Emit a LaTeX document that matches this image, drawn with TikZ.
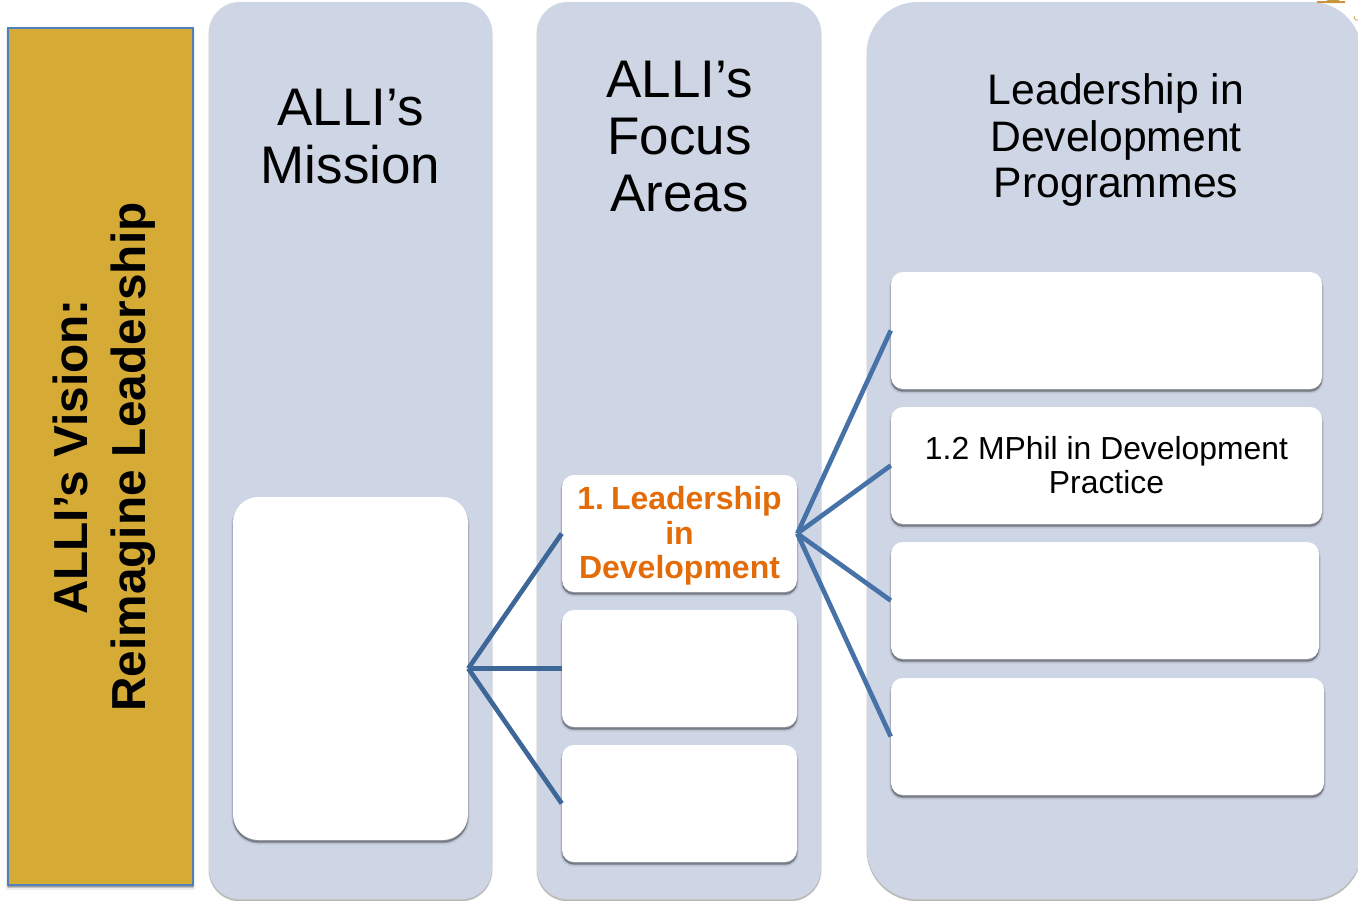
\documentclass[tikz,border=0pt]{standalone}
\usepackage{fontspec}
\setmainfont{Liberation Sans}
\definecolor{panelblue}{HTML}{CED5E5}
\definecolor{goldfill}{HTML}{D6AB35}
\definecolor{goldedge}{HTML}{4F81BD}
\definecolor{linedark}{HTML}{3D6797}
\definecolor{linelight}{HTML}{4672A8}
\definecolor{orangetext}{HTML}{E36C09}
\definecolor{crest}{HTML}{C8963C}
\tikzset{
  softshadow/.style={
    preaction={draw=black,line width=1.6pt,fill=black,opacity=.04,transform canvas={yshift=-1.4pt}},
    preaction={draw=black,line width=.8pt,fill=black,opacity=.06,transform canvas={yshift=-1.4pt}},
    preaction={fill=black,opacity=.14,transform canvas={yshift=-1.6pt}}},
  boxshadow/.style={
    preaction={draw=black,line width=2.6pt,fill=black,opacity=.07,transform canvas={yshift=-2.2pt}},
    preaction={draw=black,line width=1.2pt,fill=black,opacity=.12,transform canvas={yshift=-1.8pt}},
    preaction={fill=black,opacity=.18,transform canvas={yshift=-1.8pt}}},
  panel/.style={softshadow,fill=panelblue,inner sep=0pt},
  whitebox/.style={boxshadow,fill=white,inner sep=0pt,rounded corners=9pt,minimum width=176.25pt,minimum height=87.75pt},
  paneltitle/.style={align=center,font=\fontsize{39.7}{43}\selectfont,inner sep=0pt},
  progtitle/.style={align=center,font=\fontsize{32}{34.7}\selectfont,inner sep=0pt},
  branchdark/.style={draw=linedark,line width=3.5pt},
  branchlight/.style={draw=linelight,line width=3.5pt}
}
\begin{document}
\begin{tikzpicture}[x=0.75pt,y=-0.75pt]
\useasboundingbox (0,0) rectangle (1358,900);
% panels
\node[panel,rounded corners=23pt,minimum width=212.25pt,minimum height=672.75pt] (p1) at (350.5,450.5) {};
\node[panel,rounded corners=23pt,minimum width=213pt,minimum height=672.75pt] (p2) at (679,450.5) {};
\node[panel,rounded corners=38pt,minimum width=371pt,minimum height=672.75pt] (p3) at (1114.33,450.5) {};
% vision
\node[boxshadow,fill=goldfill,draw=goldedge,line width=1.4pt,inner sep=0pt,minimum width=138.75pt,minimum height=642.75pt] (vision) at (100.5,456.5) {};
\node[rotate=90,align=center,inner sep=0pt,font=\fontsize{35.8}{43.5}\selectfont\bfseries] (visiontext) at (104.5,457) {ALLI’s Vision:\\Reimagine Leadership};
% titles
\node[paneltitle] (t1) at (350.5,136.5) {ALLI’s\\Mission};
\node[paneltitle] (t2) at (679.5,136.5) {ALLI’s\\Focus\\Areas};
\node[progtitle] (t3) at (1116,140) {Leadership in\\Development\\Programmes};
% white boxes
\node[whitebox,rounded corners=19pt,minimum height=257.25pt] (mission) at (350.5,668.5) {};
\node[whitebox,align=center,text=orangetext,font=\fontsize{24}{26}\selectfont\bfseries] (f1) at (679.5,533.5) {\rule{0pt}{21pt}1.\hspace{0.22em}Leadership\\in\\Development};
\node[whitebox] (f2) at (679.5,668.5) {};
\node[whitebox] (f3) at (679.5,803.5) {};
\node[whitebox,minimum width=323.25pt] (g1) at (1106.5,330.5) {};
\node[whitebox,minimum width=323.25pt,align=center,font=\fontsize{23.9}{25.5}\selectfont] (g2) at (1106.5,465.5) {1.2 MPhil in Development\\Practice};
\node[whitebox,minimum width=321pt] (g3) at (1105,600.5) {};
\node[whitebox,minimum width=324.75pt] (g4) at (1107.5,736.5) {};
% connectors
\draw[branchdark] (mission.east) -- (f1.west);
\draw[branchdark] (mission.east) -- (f2.west);
\draw[branchdark] (mission.east) -- (f3.west);
\draw[branchlight] (f1.east) -- (g1.west);
\draw[branchlight] (f1.east) -- (g2.west);
\draw[branchlight] (f1.east) -- (g3.west);
\draw[branchlight] (f1.east) -- (g4.west);
% clipped emblem fragments at the top right corner
\fill[crest] (1317,1) -- (1326,1) -- (1328,0) -- (1338,0) -- (1340,1) -- (1345,1) -- (1345,3) -- (1317,3) -- cycle;
\draw[crest,line width=.6pt] (1358,20) arc (70:200:3);
\end{tikzpicture}
\end{document}
